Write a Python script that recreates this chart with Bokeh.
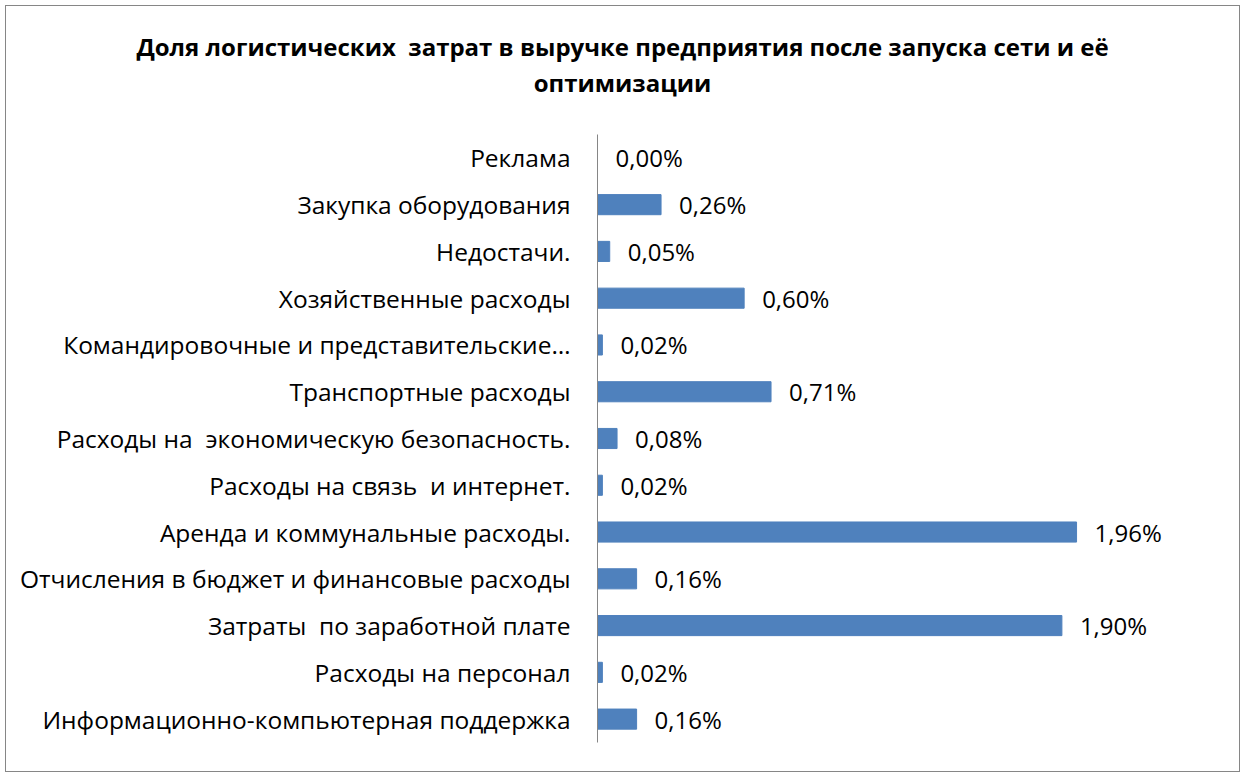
from bokeh.plotting import figure
from bokeh.models import FactorRange, ColumnDataSource, Div
from bokeh.layouts import column
from bokeh.core.properties import value
from bokeh.embed import file_html
from bokeh.resources import INLINE

categories = [
    "Реклама",
    "Закупка оборудования",
    "Недостачи.",
    "Хозяйственные расходы",
    "Командировочные и представительские…",
    "Транспортные расходы",
    "Расходы на  экономическую безопасность.",
    "Расходы на связь  и интернет.",
    "Аренда и коммунальные расходы.",
    "Отчисления в бюджет и финансовые расходы",
    "Затраты  по заработной плате",
    "Расходы на персонал",
    "Информационно-компьютерная поддержка",
]
values = [0.00, 0.26, 0.05, 0.60, 0.02, 0.71, 0.08, 0.02, 1.96, 0.16, 1.90, 0.02, 0.16]
value_labels = ["0,00%", "0,26%", "0,05%", "0,60%", "0,02%", "0,71%", "0,08%",
                "0,02%", "1,96%", "0,16%", "1,90%", "0,02%", "0,16%"]
title_lines = ["Доля логистических  затрат в выручке предприятия после запуска сети и её",
               "оптимизации"]

FONT = "Open Sans"
# keep the double spaces visible (SVG collapses ordinary repeated spaces)
shown = [c.replace("  ", " \u00a0") for c in categories]
src = ColumnDataSource(dict(cat=shown, val=values, lab=value_labels))

TITLE_H = 122
title_html = "<br>".join(t.replace("  ", " &nbsp;") for t in title_lines)
title_div = Div(
    text=(f'<div style="width:1233px;height:{TITLE_H}px;box-sizing:border-box;'
          f'padding-top:23px;margin:0;text-align:center;font-family:\'{FONT}\';'
          f'font-size:24px;font-weight:bold;line-height:36px;color:#000;">'
          f'{title_html}</div>'),
    width=1233, height=TITLE_H,
    styles={"margin": "0", "padding": "0", "overflow": "hidden"},
)

p = figure(width=1233, height=765 - TITLE_H, output_backend="svg", toolbar_location=None,
           y_range=FactorRange(factors=list(reversed(shown)), range_padding=0),
           x_range=(0, 2.508),
           min_border_left=591, min_border_right=29, min_border_top=6, min_border_bottom=29)
p.outline_line_color = None
p.grid.visible = False
p.xaxis.visible = False

p.hbar(y="cat", right="val", left=0, height=0.43, source=src, color="#4F81BD")
p.text(x="val", y="cat", text="lab", source=src, x_offset=18, text_baseline="middle",
       text_align="left", text_font=value(FONT), text_font_size="24px", text_color="#000000")

ya = p.yaxis[0]
ya.axis_line_color = "#868686"
ya.axis_line_width = 1
ya.major_tick_line_color = None
ya.minor_tick_line_color = None
ya.major_label_standoff = 21
ya.major_label_text_font = FONT
ya.major_label_text_font_size = "24.5px"
ya.major_label_text_color = "#000000"

layout = column(title_div, p, spacing=0)
layout.styles = {"margin-left": "5px", "margin-top": "5px", "border": "1px solid #868686"}

open("out.html", "w").write(file_html(layout, INLINE))
